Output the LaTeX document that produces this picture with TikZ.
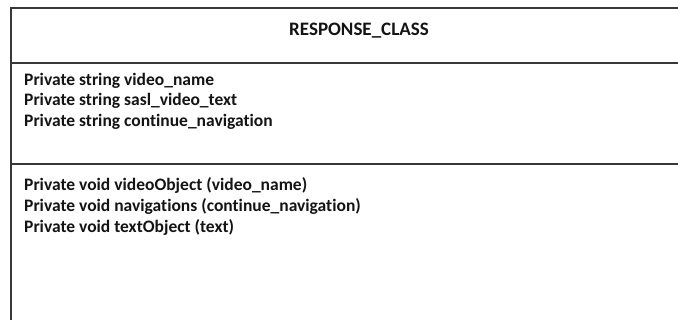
\documentclass[tikz,border=0pt]{standalone}
\usepackage{fontspec}
\setmainfont{Carlito}[Ligatures=NoCommon]
\begin{document}
\begin{tikzpicture}[x=1pt,y=-1pt,
  frame/.style={line width=1.5pt,draw=black!78},
  rowtext/.style={anchor=west,inner sep=0pt,font=\fontsize{17.5}{21}\selectfont\bfseries,text=black!92},
  titletext/.style={anchor=center,inner sep=0pt,font=\fontsize{19}{23}\selectfont\bfseries,text=black!92}]
\useasboundingbox (0,0) rectangle (678,320);
\fill[white] (0,0) rectangle (678,320);
% frame coordinates
\coordinate (tl) at (11,8);
\coordinate (tr) at (678,8);
\coordinate (bl) at (11,320);
\coordinate (d1l) at (11,63);
\coordinate (d1r) at (678,63);
\coordinate (d2l) at (11,164);
\coordinate (d2r) at (678,164);
\draw[frame] (tr) -- (tl) -- (bl);
\draw[frame] (d1l) -- (d1r);
\draw[frame] (d2l) -- (d2r);
% title
\node[titletext] (title) at (359,31) {RESPONSE\_CLASS};
% attributes
\node[rowtext] (a1) at (24,81) {Private string video\_name};
\node[rowtext] (a2) at (24,101) {Private string sasl\_video\_text};
\node[rowtext] (a3) at (24,122) {Private string continue\_navigation};
% methods
\node[rowtext] (m1) at (24,185) {Private void videoObject (video\_name)};
\node[rowtext] (m2) at (24,206) {Private void navigations (continue\_navigation)};
\node[rowtext] (m3) at (24,227) {Private void textObject (text)};
\end{tikzpicture}
\end{document}
